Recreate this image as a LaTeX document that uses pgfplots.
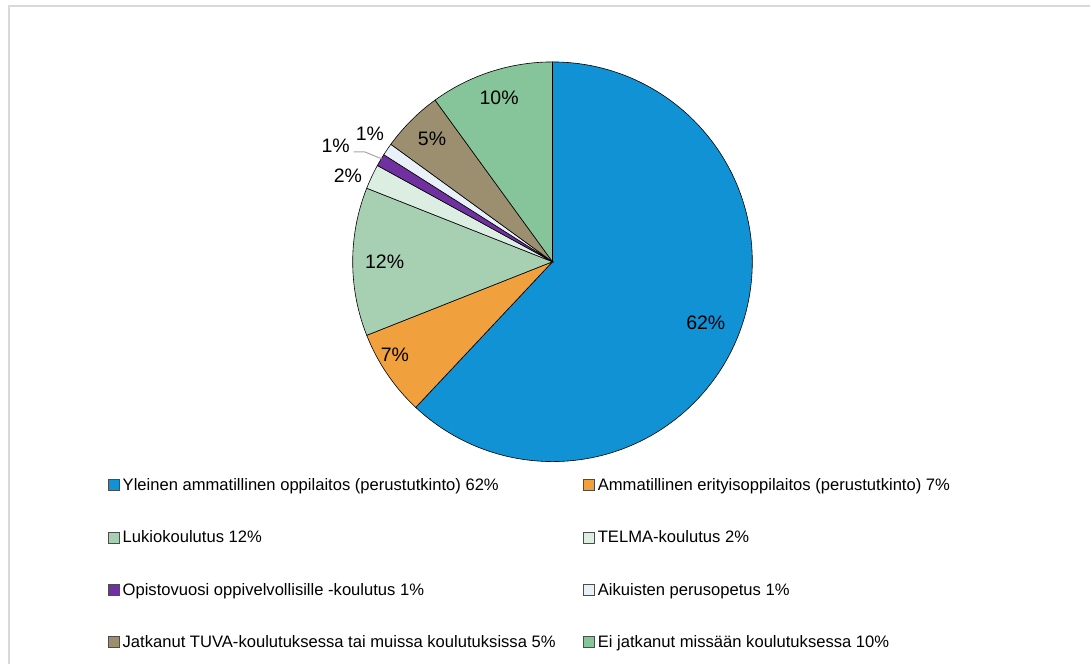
\documentclass[border=0pt]{standalone}
\usepackage{fontspec}
\setmainfont{Liberation Sans}
\usepackage{pgfplots}
\pgfplotsset{compat=1.18}

% slice colours
\definecolor{cA}{RGB}{17,146,212}
\definecolor{cB}{RGB}{240,160,60}
\definecolor{cC}{RGB}{167,208,179}
\definecolor{cD}{RGB}{220,238,225}
\definecolor{cE}{RGB}{112,48,160}
\definecolor{cF}{RGB}{233,241,248}
\definecolor{cG}{RGB}{156,143,112}
\definecolor{cH}{RGB}{134,196,154}
\definecolor{frame}{RGB}{217,217,217}

% value / colour / label radius / label angle offset
\def\piedata{62/cA/165/0, 7/cB/183/-3.7, 12/cC/168/0, 2/cD/222/2.5,
  1/cE/246/2.5, 1/cF/223/-0.8, 5/cG/172/-0.5, 10/cH/173/0}

\begin{document}
\begin{tikzpicture}
\begin{axis}[
    x=1bp, y=1bp,
    xmin=0, xmax=1091, ymin=0, ymax=665,
    enlargelimits=false,
    hide axis,
    clip=false,
    legend columns=2,
    legend cell align=left,
    legend image code/.code={
        \draw[#1, draw=black!70, line width=0.6bp] (0bp,-5.5bp) rectangle (11bp,5.5bp);},
    legend style={
        at={(axis cs:108,188)}, anchor=north west,
        draw=none, fill=none, inner sep=0pt,
        font=\fontsize{16.6bp}{19bp}\selectfont,
        row sep=35.2bp,
        nodes={inner sep=0pt, anchor=west, text height=14bp, text depth=3bp},
        /tikz/every odd column/.append style={column sep=3bp},
        /tikz/every even column/.append style={column sep=6bp},
    },
]
\pgfplotsextra{
    \path (axis cs:0,0) rectangle (axis cs:1091,665);
    % frame (top and left edge)
    \draw[frame, line width=2bp] (axis cs:9,0) -- (axis cs:9,659) -- (axis cs:1091,659);
    % slices
    \foreach \v/\c/\r/\o [remember=\e as \s (initially 90)] in \piedata {
        \pgfmathsetmacro\e{\s-3.6*\v}
        \filldraw[fill=\c, draw=black, line width=0.6bp]
            (axis cs:553,403) -- ++(\s:200bp) arc[start angle=\s, end angle=\e, radius=200bp] -- cycle;
    }
    % labels
    \foreach \v/\c/\r/\o [remember=\e as \s (initially 90)] in \piedata {
        \pgfmathsetmacro\e{\s-3.6*\v}
        \pgfmathsetmacro\m{(\s+\e)/2+\o}
        \path (axis cs:553,403) ++(\m:\r bp)
            node[font=\fontsize{19.5bp}{22bp}\selectfont] {\v\%};
    }
    % leader line for the purple slice
    \draw[black!35, line width=1bp] (axis cs:354,513) -- (axis cs:365,513) -- (axis cs:382,506);
}
\addlegendimage{fill=cA}
\addlegendentry{\makebox[455bp][l]{Yleinen ammatillinen oppilaitos (perustutkinto) 62\%}}
\addlegendimage{fill=cB}
\addlegendentry{Ammatillinen erityisoppilaitos (perustutkinto) 7\%}
\addlegendimage{fill=cC}
\addlegendentry{\makebox[455bp][l]{Lukiokoulutus 12\%}}
\addlegendimage{fill=cD}
\addlegendentry{TELMA-koulutus 2\%}
\addlegendimage{fill=cE}
\addlegendentry{\makebox[455bp][l]{Opistovuosi oppivelvollisille -koulutus 1\%}}
\addlegendimage{fill=cF}
\addlegendentry{Aikuisten perusopetus 1\%}
\addlegendimage{fill=cG}
\addlegendentry{\makebox[455bp][l]{Jatkanut TUVA-koulutuksessa tai muissa koulutuksissa 5\%}}
\addlegendimage{fill=cH}
\addlegendentry{Ei jatkanut missään koulutuksessa 10\%}
\end{axis}
\end{tikzpicture}
\end{document}
